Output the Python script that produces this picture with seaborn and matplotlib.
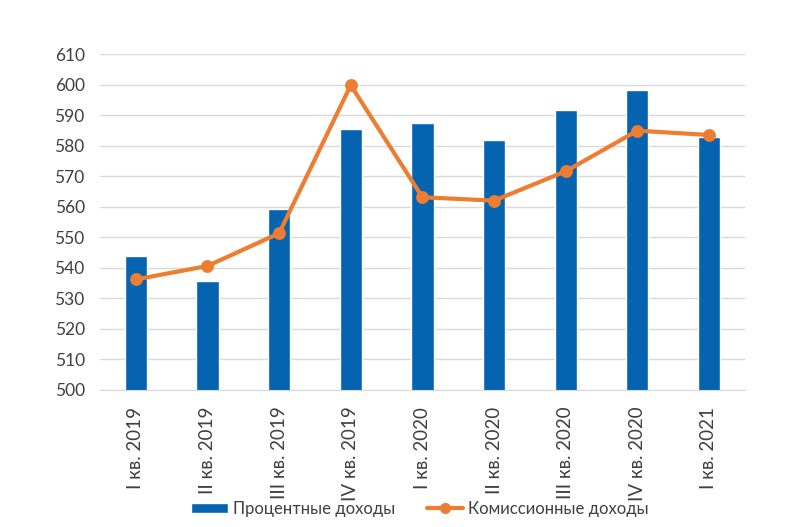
import matplotlib.pyplot as plt
import seaborn as sns
import numpy as np
from matplotlib.patches import Patch
from matplotlib.lines import Line2D

# Quarterly data
quarters = ['I кв. 2019', 'II кв. 2019', 'III кв. 2019', 'IV кв. 2019',
            'I кв. 2020', 'II кв. 2020', 'III кв. 2020', 'IV кв. 2020', 'I кв. 2021']
interest_income = [543.9, 535.6, 559.2, 585.4, 587.4, 581.8, 591.8, 598.2, 582.9]
commission_income = [536.2, 540.6, 551.3, 599.8, 563.1, 562.0, 571.6, 584.9, 583.5]
series_labels = ['Процентные доходы', 'Комиссионные доходы']

bar_color = '#0563B0'
line_color = '#ED7D31'

sns.set_style('white')
plt.rcParams['font.family'] = ['Lato', 'DejaVu Sans']

fig = plt.figure(figsize=(8, 5.27), dpi=100)
ax = fig.add_axes([0.125, 0.26, 0.806, 0.6375])

sns.barplot(x=quarters, y=interest_income, color=bar_color, width=0.31,
            saturation=1, ax=ax, zorder=2)
sns.pointplot(x=quarters, y=commission_income, color=line_color,
              markersize=7, linewidth=3, ax=ax, zorder=3)

ax.set_ylim(500, 610)
ax.set_yticks(np.arange(500, 611, 10))
ax.set_xlim(-0.5, len(quarters) - 0.5)
ax.yaxis.grid(True, color='#d9d9d9', linewidth=1)
ax.set_axisbelow(True)
for side in ['left', 'right', 'top']:
    ax.spines[side].set_visible(False)
ax.spines['bottom'].set_color('#d9d9d9')

ax.set_xticks(range(len(quarters)))
ax.set_xticklabels(quarters, rotation=90, fontsize=13.5, color='#404040')
ax.set_xticks(np.arange(-0.5, len(quarters), 1), minor=True)
ax.tick_params(axis='x', which='major', length=0, pad=12)
ax.tick_params(axis='x', which='minor', length=6, color='#d9d9d9')
ax.tick_params(axis='y', length=0, labelsize=12.5, labelcolor='#404040', pad=11)

handles = [Patch(facecolor=bar_color),
           Line2D([], [], color=line_color, linewidth=3, marker='o', markersize=7)]
fig.legend(handles, series_labels, loc='center', bbox_to_anchor=(0.525, 0.034), ncol=2,
           frameon=False, fontsize=12, handlelength=2.2, handleheight=0.6,
           columnspacing=1.9, handletextpad=0.3, labelcolor='#404040')

fig.savefig('out.png', dpi=100)
plt.close(fig)
